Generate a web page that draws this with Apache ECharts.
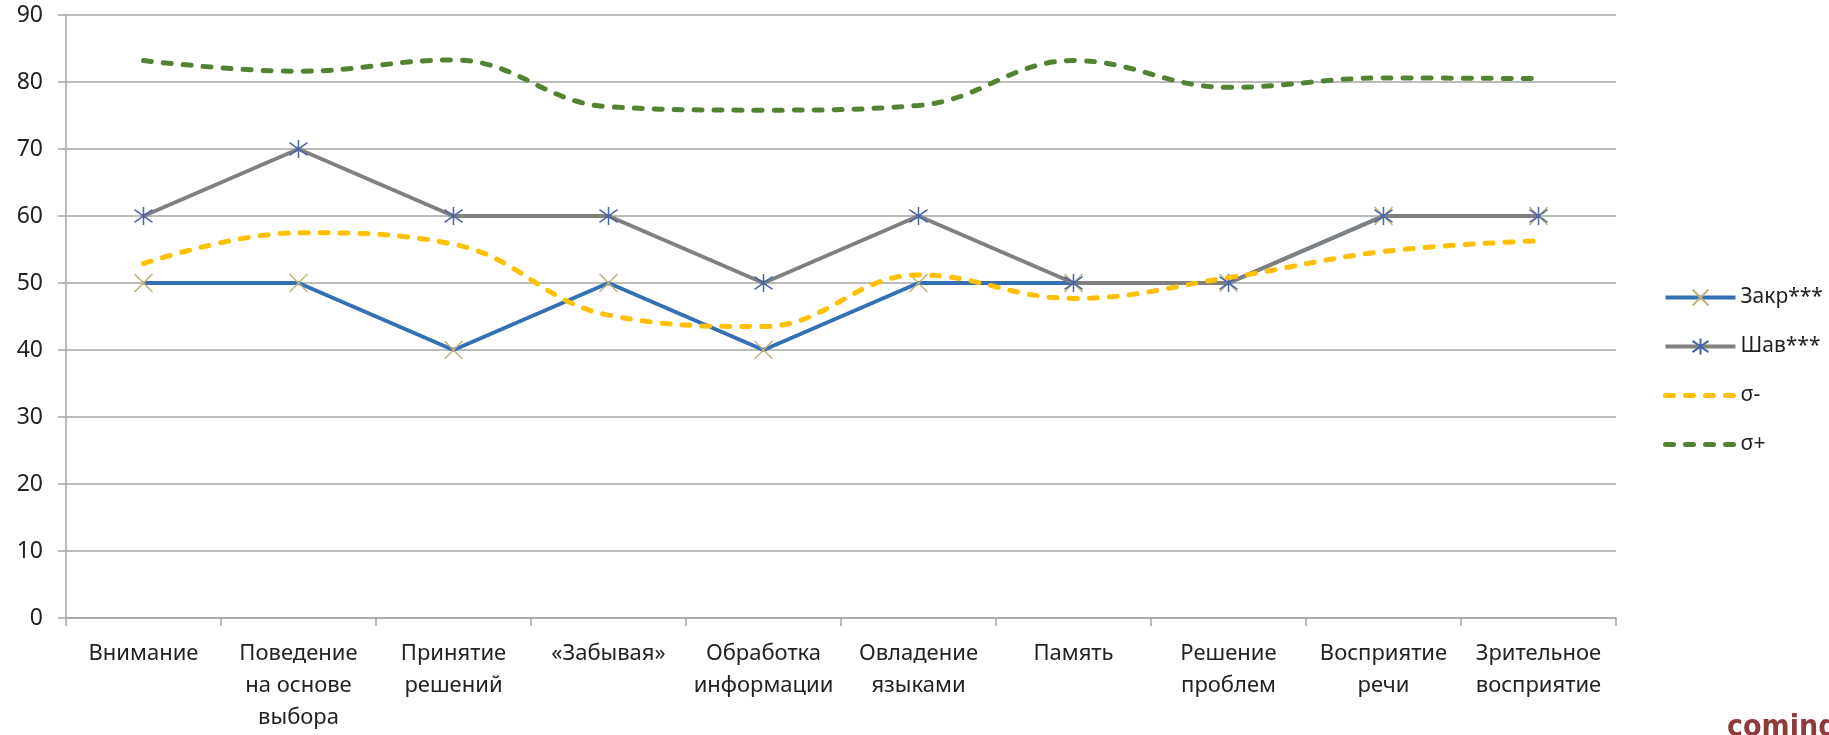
<!DOCTYPE html>
<html>
<head>
<meta charset="utf-8">
<script src="https://cdn.jsdelivr.net/npm/echarts@6/dist/echarts.min.js"></script>
<style>
html,body{margin:0;padding:0;background:#fff;}
#chart{width:1829px;height:735px;}
</style>
</head>
<body>
<div id="chart"></div>
<script>
var categories = ['Внимание', 'Поведение\nна основе\nвыбора', 'Принятие\nрешений', '«Забывая»', 'Обработка\nинформации', 'Овладение\nязыками', 'Память', 'Решение\nпроблем', 'Восприятие\nречи', 'Зрительное\nвосприятие'];
var zakr = [50, 50, 40, 50, 40, 50, 50, 50, 60, 60];
var shav = [60, 70, 60, 60, 50, 60, 50, 50, 60, 60];
var sigmaMinus = [52.9, 57.5, 55.8, 45.2, 43.5, 51.2, 47.7, 50.8, 54.7, 56.3];
var sigmaPlus = [83.2, 81.6, 83.3, 76.3, 75.8, 76.5, 83.2, 79.2, 80.6, 80.5];
var yTicks = {min: 0, max: 90, interval: 10};

var FONT = '"Noto Sans", "DejaVu Sans", sans-serif';
var chart = echarts.init(document.getElementById('chart'));
var gridColor = '#a6a6a6';
var crossPath = 'path://M0,0L20,20M20,0L0,20';
var starPath = 'path://M10,0L10,20M0,3L20,17M20,3L0,17';

var C_BLUE = '#3470b2', C_GREY = '#808080', C_YEL = '#ffc000', C_GRN = '#548235';

chart.setOption({
  animation: false,
  backgroundColor: '#ffffff',
  textStyle: {fontFamily: FONT},
  grid: {left: 66, right: 213, top: 15, bottom: 117, containLabel: false},
  legend: {
    orient: 'vertical',
    left: 1658,
    top: 282,
    itemWidth: 70,
    itemHeight: 20,
    itemGap: 28,
    textStyle: {fontFamily: FONT, fontSize: 21, color: '#222'},
    data: [
      {name: 'Закр***', lineStyle: {width: 4, color: C_BLUE}},
      {name: 'Шав***', lineStyle: {width: 4, color: C_GREY}},
      {name: 'σ-', lineStyle: {width: 5, color: C_YEL, type: [8, 12], cap: 'round'}, itemStyle: {opacity: 0}},
      {name: 'σ+', lineStyle: {width: 5, color: C_GRN, type: [8, 12], cap: 'round'}, itemStyle: {opacity: 0}}
    ]
  },
  xAxis: {
    type: 'category',
    data: categories,
    boundaryGap: true,
    axisLine: {show: true, lineStyle: {color: gridColor, width: 1.5}},
    axisTick: {show: true, length: 8, alignWithLabel: false, lineStyle: {color: gridColor, width: 1.5}},
    axisLabel: {fontFamily: FONT, fontSize: 22, color: '#222', margin: 20, lineHeight: 32, interval: 0},
    splitLine: {show: false}
  },
  yAxis: {
    type: 'value',
    min: yTicks.min,
    max: yTicks.max,
    interval: yTicks.interval,
    axisLine: {show: true, lineStyle: {color: gridColor, width: 1.5}},
    axisTick: {show: true, length: 8, lineStyle: {color: gridColor, width: 1.5}},
    axisLabel: {fontFamily: FONT, fontSize: 23, color: '#222', margin: 23},
    splitLine: {show: true, lineStyle: {color: gridColor, width: 1.5}}
  },
  series: [
    {
      name: 'Закр***',
      type: 'line',
      data: zakr,
      symbol: crossPath,
      symbolSize: 18,
      lineStyle: {color: C_BLUE, width: 4},
      itemStyle: {color: '#c2b27a', borderColor: '#c2b27a', borderWidth: 1.5},
      z: 2
    },
    {
      name: 'Шав***',
      type: 'line',
      data: shav,
      symbol: starPath,
      symbolSize: 18,
      lineStyle: {color: C_GREY, width: 4},
      itemStyle: {color: '#4a64a8', borderColor: '#4a64a8', borderWidth: 1.5},
      z: 3
    },
    {
      name: 'σ-',
      type: 'line',
      data: sigmaMinus,
      symbol: 'none',
      smooth: 0.4,
      lineStyle: {color: C_YEL, width: 5, type: [8, 12], cap: 'round'},
      itemStyle: {color: C_YEL},
      z: 4
    },
    {
      name: 'σ+',
      type: 'line',
      data: sigmaPlus,
      symbol: 'none',
      smooth: 0.4,
      lineStyle: {color: C_GRN, width: 5, type: [8, 12], cap: 'round'},
      itemStyle: {color: C_GRN},
      z: 4
    }
  ],
  graphic: [
    {
      type: 'text',
      x: 1727,
      y: 743,
      style: {text: 'coming', fill: '#8e3b3b', font: 'bold 30px "DejaVu Sans Condensed", sans-serif', verticalAlign: 'bottom'}
    }
  ]
});
</script>
</body>
</html>
